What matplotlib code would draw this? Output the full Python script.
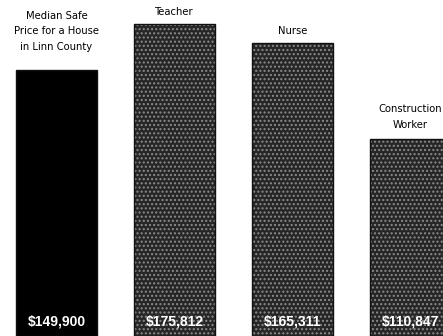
import matplotlib.pyplot as plt
from matplotlib import font_manager

# データ
categories = ["Median Safe\nPrice for a House\nin Linn County", "Teacher", "Nurse",
              "Construction\nWorker"]
values = [149900, 175812, 165311, 110847]
value_labels = ["$149,900", "$175,812", "$165,311", "$110,847"]

names = {f.name for f in font_manager.fontManager.ttflist}
narrow = "Liberation Sans Narrow" if "Liberation Sans Narrow" in names else "DejaVu Sans"

fig = plt.figure(figsize=(4.43, 3.36), dpi=100)
ax = fig.add_axes([0, 0, 1, 1])

x = list(range(len(values)))
bars = ax.bar(x, values, width=0.68, color="#262626", edgecolor="#111111",
              linewidth=1.0, hatch="....")
for b in bars:
    b._hatch_color = (0.55, 0.55, 0.55, 1.0)
bars[0].set_facecolor("black")
bars[0].set_hatch(None)

# ラベル位置の微調整 (points)
pads = [13, 5, 5, 7]
for i, (v, cat, lab) in enumerate(zip(values, categories, value_labels)):
    ax.annotate(cat, (i, v), xytext=(0, pads[i]), textcoords="offset points",
                ha="center", va="bottom", fontsize=8, family=narrow,
                stretch="condensed", linespacing=1.7)
    ax.text(i, 8000, lab, ha="center", va="center", color="white",
            fontsize=10, fontweight="bold", family="Liberation Sans")

ax.set_xlim(-0.479, 3.275)
ax.set_ylim(0, 189300)
ax.axis("off")

plt.savefig("out.png", dpi=100)
